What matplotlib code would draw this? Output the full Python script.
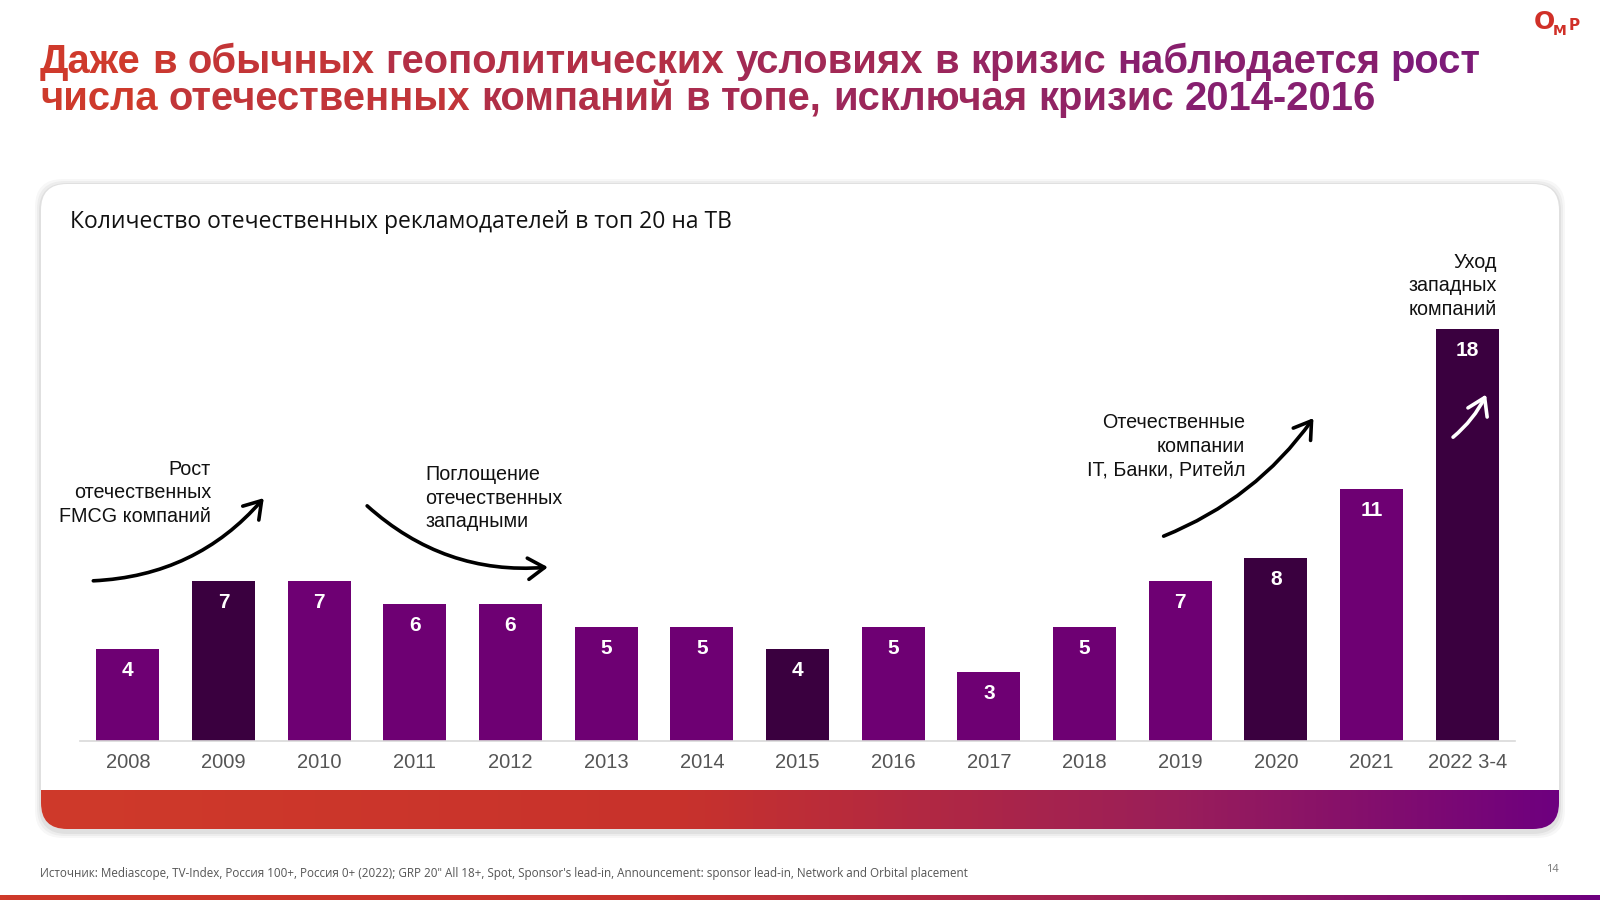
import numpy as np
import matplotlib.pyplot as plt
from matplotlib.patches import FancyBboxPatch, FancyArrowPatch
from matplotlib.colors import LinearSegmentedColormap, to_rgb

years = ['2008', '2009', '2010', '2011', '2012', '2013', '2014', '2015',
         '2016', '2017', '2018', '2019', '2020', '2021', '2022 3-4']
counts = [4, 7, 7, 6, 6, 5, 5, 4, 5, 3, 5, 7, 8, 11, 18]
dark_years = ['2009', '2015', '2020', '2022 3-4']

title_lines = ['Даже в обычных геополитических условиях в кризис наблюдается рост',
               'числа отечественных компаний в топе, исключая кризис 2014-2016']
subtitle = 'Количество отечественных рекламодателей в топ 20 на ТВ'
source = ('Источник: Mediascope, TV-Index, Россия 100+, Россия 0+ (2022); GRP 20" All 18+, Spot, '
          "Sponsor's lead-in, Announcement: sponsor lead-in, Network and Orbital placement")

PURPLE = '#6E0073'
DARK = '#3A003F'
RED = '#CF3A2A'
VIOLET = '#6E007F'

fig = plt.figure(figsize=(16, 9), dpi=100)
fig.patch.set_facecolor('white')

# background layer in pixel coordinates (y down)
bg = fig.add_axes([0, 0, 1, 1], zorder=0)
bg.set_xlim(0, 1600)
bg.set_ylim(900, 0)
bg.axis('off')

grad_cmap = LinearSegmentedColormap.from_list('band', [(0, RED), (0.42, '#C8322C'), (0.75, '#9A1E5A'), (1, VIOLET)])
grad = np.linspace(0, 1, 512).reshape(1, -1)

# card shadow + card
for k, a in enumerate([0.05, 0.04, 0.03]):
    sh = FancyBboxPatch((41 - 2 - k * 2, 184 - 1 - k * 2), 1518 + 4 + k * 4, 645 + 6 + k * 4,
                        boxstyle='round,pad=0,rounding_size=28', fc='black', ec='none', alpha=a, zorder=1)
    bg.add_patch(sh)
card = FancyBboxPatch((41, 184), 1518, 645, boxstyle='round,pad=0,rounding_size=26',
                      fc='white', ec='none', zorder=2)
bg.add_patch(card)
band = bg.imshow(grad, extent=[41, 1559, 829, 790], cmap=grad_cmap, aspect='auto', zorder=3)
band.set_clip_path(card)

# bottom stripe
bg.imshow(grad, extent=[0, 1600, 900, 895], cmap=grad_cmap, aspect='auto', zorder=3)

# gradient title, word by word
renderer = fig.canvas.get_renderer()
c0, c1 = np.array(to_rgb('#D23B29')), np.array(to_rgb('#7A1A7A'))
tsize = 28.8
probe = bg.text(0, 0, 'н н', fontsize=tsize, fontweight='bold', family='Liberation Sans')
probe2 = bg.text(0, 0, 'нн', fontsize=tsize, fontweight='bold', family='Liberation Sans')
space_w = probe.get_window_extent(renderer).width - probe2.get_window_extent(renderer).width
probe.remove()
probe2.remove()
for line, ybase in zip(title_lines, [73, 110]):
    x = 40
    for word in line.split(' '):
        t = bg.text(x, ybase, word, fontsize=tsize, fontweight='bold', family='Liberation Sans',
                    va='baseline', ha='left', zorder=5)
        w = t.get_window_extent(renderer).width
        frac = np.clip((x + w / 2 - 40) / 1440, 0, 1)
        t.set_color(tuple(c0 + (c1 - c0) * frac))
        x += w + space_w

# logo
bg.text(1544, 22, 'О', fontsize=18, fontweight='bold', color='#D03028', ha='center', va='center', zorder=5)
bg.text(1560, 31, 'М', fontsize=10, fontweight='bold', color='#D03028', ha='center', va='center', zorder=5)
bg.text(1574, 25, 'Р', fontsize=11, fontweight='bold', color='#D03028', ha='center', va='center', zorder=5)

# subtitle, source, page number
bg.text(70, 222, subtitle, fontsize=16.5, family='Open Sans', color='#111111', va='center', zorder=5)
bg.text(40, 873, source, fontsize=8.4, family='Open Sans', color='#555555', va='center', zorder=5)
bg.text(1552, 870, '14', fontsize=8, family='Open Sans', color='#777777', va='center', ha='center', zorder=5)

# bar chart
ax = fig.add_axes([80 / 1600, (900 - 741) / 900, 1435 / 1600, 458 / 900], zorder=4)
ax.patch.set_alpha(0)
x = np.arange(len(years))
colors = [DARK if y in dark_years else PURPLE for y in years]
bars = ax.bar(x, counts, width=0.66, color=colors, zorder=2)
ax.set_xlim(-0.5, len(years) - 0.5)
ax.set_ylim(0, 20)
ax.set_xticks(x)
ax.set_xticklabels(years, fontsize=14.5, color='#555555', family='Liberation Sans')
ax.tick_params(axis='x', length=0, pad=9)
ax.set_yticks([])
for s in ['top', 'left', 'right']:
    ax.spines[s].set_visible(False)
ax.spines['bottom'].set_color('#d9d9d9')
ax.spines['bottom'].set_linewidth(1.2)

for xi, v in zip(x, counts):
    ax.annotate(str(v), (xi, v), xytext=(0, -15.5), textcoords='offset points',
                ha='center', va='center', color='white', fontsize=15, fontweight='bold',
                family='Liberation Sans', zorder=3)

# annotations
note_kw = dict(fontsize=14.2, family='Liberation Sans', color='#111111', va='center',
               linespacing=1.32, clip_on=False, zorder=5)
ax.text(0.87, 10.83, 'Рост\nотечественных\nFMCG компаний', ha='right', multialignment='right', **note_kw)
ax.text(3.11, 10.61, 'Поглощение\nотечественных\nзападными', ha='left', **note_kw)
ax.text(11.68, 12.88, 'Отечественные\nкомпании\nIT, Банки, Ритейл', ha='right', multialignment='right', **note_kw)
ax.text(14.31, 19.87, 'Уход\nзападных\nкомпаний', ha='right', multialignment='right', **note_kw)

arrows = [((-0.39, 6.99), (1.44, 10.7), 0.22, 'black'),
          ((2.48, 10.35), (4.42, 7.6), 0.22, 'black'),
          ((10.80, 8.9), (12.41, 14.2), 0.15, 'black'),
          ((13.83, 13.19), (14.21, 15.24), 0.12, 'white')]
for start, end, rad, col in arrows:
    arr = FancyArrowPatch(start, end, connectionstyle=f'arc3,rad={rad}',
                          arrowstyle='->,head_length=7,head_width=4.5', lw=2.6, color=col,
                          mutation_scale=1.7, clip_on=False, zorder=5)
    ax.add_patch(arr)

fig.savefig('out.png', dpi=100)
